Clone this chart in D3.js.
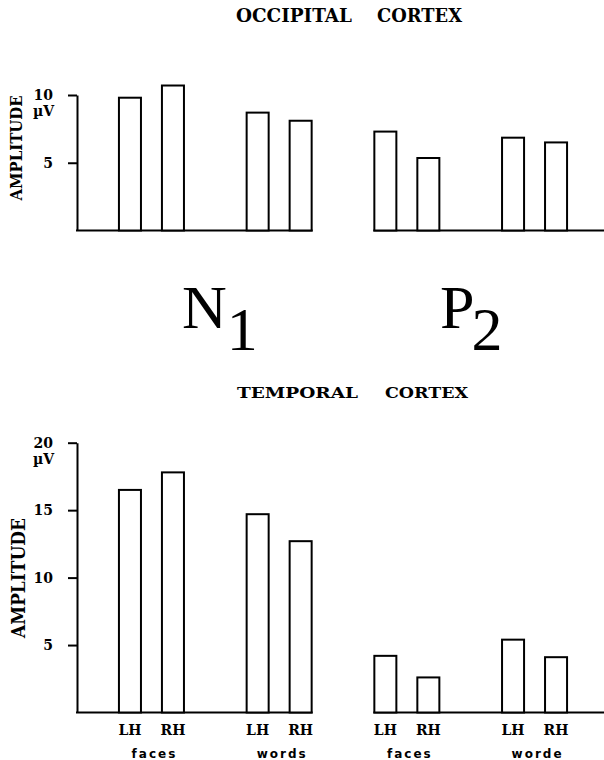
<!DOCTYPE html>
<html>
<head>
<meta charset="utf-8">
<script src="https://cdn.jsdelivr.net/npm/d3@7"></script>
<style>
  body { margin: 0; background: #fff; }
  svg { display: block; }
  .serif { font-family: "DejaVu Serif", serif; font-weight: bold; }
  .sans { font-family: "DejaVu Sans", sans-serif; font-weight: bold; }
</style>
</head>
<body>
<div id="wrapper"></div>
<script>
// groups: faces LH, faces RH, words LH, words RH
const groups = ["N1 faces", "N1 words", "P2 faces", "P2 words"];
const hemis = ["LH", "RH"];
const groupLabels = ["faces", "words", "faces", "worde"];

const occipitalN1 = [9.8, 10.7, 8.7, 8.1];
const occipitalP2 = [7.3, 5.35, 6.85, 6.5];
const temporalN1 = [16.5, 17.8, 14.7, 12.7];
const temporalP2 = [4.2, 2.6, 5.4, 4.1];

const occipitalTicks = [5, 10];
const temporalTicks = [5, 10, 15, 20];

const width = 604, height = 760;

const svg = d3.select("#wrapper").append("svg")
  .attr("width", width)
  .attr("height", height);

// shared x layout
const x = d3.scaleBand().domain(groups).range([87.6, 598.4]);
const xh = d3.scaleBand().domain(hemis)
  .range([0, x.bandwidth()])
  .paddingInner(0.488)
  .paddingOuter(0.729);

function rows(n1, p2) {
  const out = [];
  [n1, p2].forEach((vals, pi) => {
    vals.forEach((v, i) => {
      out.push({ group: groups[pi * 2 + Math.floor(i / 2)], hemi: hemis[i % 2], value: v });
    });
  });
  return out;
}

function drawPanel(opts) {
  const { n1, p2, max, ticks, y0, y1, showX } = opts;
  const y = d3.scaleLinear().domain([0, max]).range([y0, y1]);
  const g = svg.append("g");

  // y axis (left panel only)
  const axis = g.append("g")
    .attr("transform", "translate(77,0)")
    .call(d3.axisLeft(y).tickValues(ticks).tickSize(9).tickSizeOuter(0).tickPadding(15));
  axis.select(".domain").attr("stroke", "#000").attr("stroke-width", 2);
  axis.selectAll(".tick line").attr("stroke", "#000").attr("stroke-width", 2);
  axis.selectAll(".tick text")
    .attr("class", "serif")
    .style("font-size", "14px")
    .attr("fill", "#000");

  g.append("text")
    .attr("class", "serif")
    .attr("x", 54).attr("y", y(max) + 21)
    .attr("text-anchor", "end")
    .style("font-size", "14px")
    .text("µV");

  // baselines
  const leftEnd = x("N1 words") + xh("RH") + xh.bandwidth();
  const rightStart = x("P2 faces") + xh("LH");
  g.append("line")
    .attr("x1", 76).attr("x2", leftEnd + 1)
    .attr("y1", y(0)).attr("y2", y(0))
    .attr("stroke", "#000").attr("stroke-width", 2);
  g.append("line")
    .attr("x1", rightStart - 1).attr("x2", width)
    .attr("y1", y(0)).attr("y2", y(0))
    .attr("stroke", "#000").attr("stroke-width", 2);

  // bars
  g.selectAll("rect.bar")
    .data(rows(n1, p2))
    .join("rect")
    .attr("class", "bar")
    .attr("x", d => x(d.group) + xh(d.hemi))
    .attr("y", d => y(d.value))
    .attr("width", xh.bandwidth())
    .attr("height", d => y(0) - y(d.value))
    .attr("fill", "#fff")
    .attr("stroke", "#000")
    .attr("stroke-width", 2);

  if (showX) {
    groups.forEach((gr, i) => {
      hemis.forEach(h => {
        g.append("text")
          .attr("class", "serif")
          .attr("x", x(gr) + xh(h) + xh.bandwidth() / 2)
          .attr("y", y(0) + 22)
          .attr("text-anchor", "middle")
          .style("font-size", "14px")
          .text(h);
      });
      g.append("text")
        .attr("class", "sans")
        .attr("x", x(gr) + x.bandwidth() / 2 + 3)
        .attr("y", y(0) + 45)
        .attr("text-anchor", "middle")
        .style("font-size", "12px")
        .style("letter-spacing", "2px")
        .text(groupLabels[i]);
    });
  }
}

drawPanel({ n1: occipitalN1, p2: occipitalP2, max: 10, ticks: occipitalTicks, y0: 230.5, y1: 95, showX: false });
drawPanel({ n1: temporalN1, p2: temporalP2, max: 20, ticks: temporalTicks, y0: 712.5, y1: 442.7, showX: true });

// titles
function title(word, x0, len, yb, size) {
  svg.append("text")
    .attr("class", "serif")
    .attr("x", x0).attr("y", yb)
    .attr("textLength", len)
    .attr("lengthAdjust", "spacingAndGlyphs")
    .style("font-size", size + "px")
    .text(word);
}
title("OCCIPITAL", 236, 116, 22, 18);
title("CORTEX", 377, 85, 22, 18);
title("TEMPORAL", 237, 121, 398, 15);
title("CORTEX", 385, 83, 398, 15);

// amplitude labels
function ampl(cx, cy, len, size) {
  svg.append("text")
    .attr("class", "serif")
    .attr("transform", `translate(${cx},${cy}) rotate(-90)`)
    .attr("text-anchor", "middle")
    .attr("textLength", len)
    .attr("lengthAdjust", "spacingAndGlyphs")
    .style("font-size", size + "px")
    .text("AMPLITUDE");
}
ampl(22, 148, 105, 16);
ampl(25, 578, 120, 18);

// component labels
function comp(letter, sub, x0, dx) {
  const t = svg.append("text")
    .attr("x", x0).attr("y", 328)
    .style("font-family", "'Liberation Serif', serif")
    .style("font-size", "62px")
    .text(letter);
  t.append("tspan").attr("dx", dx).attr("dy", 22).text(sub);
}
comp("N", "1", 182, 0);
comp("P", "2", 440, -3);
</script>
</body>
</html>
